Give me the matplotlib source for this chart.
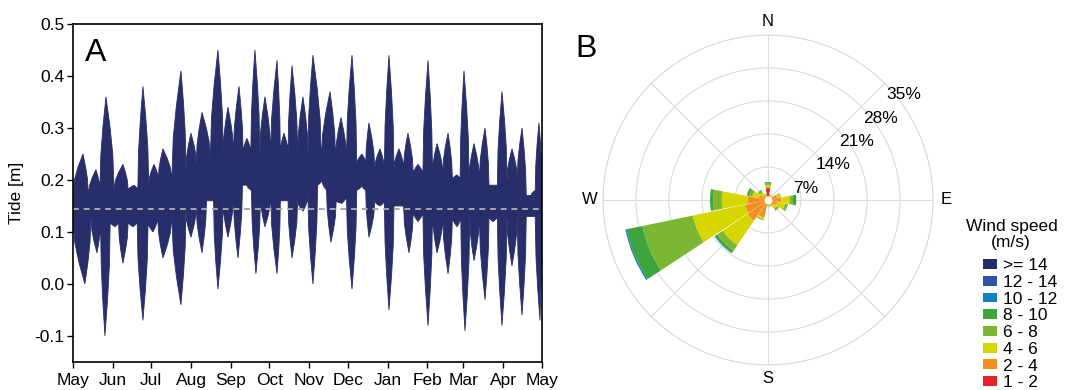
import numpy as np
import matplotlib
matplotlib.use('Agg')
import matplotlib.pyplot as plt
from matplotlib.patches import Patch

plt.rcParams['font.family'] = ['Liberation Sans', 'DejaVu Sans']
plt.rcParams['font.size'] = 12

# ---- panel A: tide envelope, peaks and notches (days since 1 May) ----
up_day = [0, 7.8, 12, 17.9, 21, 25.7, 32, 38.9, 43, 47.5, 50.5, 54.5, 59, 63.1, 66.5, 70.1,
          77, 84.1, 88, 91.9, 96, 100.5, 107, 112.9, 117, 120.7, 125, 129.3, 132.5, 135.5,
          138.5, 141.7, 145.5, 149.5, 154, 158.9, 161.5, 164.3, 167.5, 170.6, 175, 179.1,
          183, 186.9, 193.5, 200.2, 204.5, 208.7, 213, 217.3, 221, 225.1, 228, 230.5, 235,
          239.1, 242.5, 246.1, 250, 253.9, 257.5, 260.9, 265, 268.7, 272.5, 276.5, 280,
          283.5, 288, 292.1, 295.5, 299.1, 301.5, 304.5, 308.5, 312.3, 316.5, 320.9, 324,
          327.1, 330.5, 334.1, 338, 341.9, 346, 349.7, 353, 356.7, 360, 362.9, 365]
up_val = [0.17, 0.25, 0.17, 0.22, 0.18, 0.36, 0.18, 0.23, 0.18, 0.19, 0.18, 0.38, 0.19, 0.23, 0.20, 0.26,
          0.20, 0.41, 0.22, 0.29, 0.23, 0.33, 0.24, 0.45, 0.25, 0.34, 0.25, 0.38, 0.25, 0.28,
          0.25, 0.45, 0.25, 0.36, 0.25, 0.43, 0.25, 0.29, 0.25, 0.42, 0.25, 0.36,
          0.25, 0.44, 0.24, 0.37, 0.24, 0.32, 0.24, 0.44, 0.23, 0.25, 0.23, 0.31, 0.22,
          0.26, 0.22, 0.44, 0.22, 0.26, 0.22, 0.29, 0.21, 0.23, 0.21, 0.43, 0.21,
          0.27, 0.21, 0.29, 0.20, 0.21, 0.20, 0.41, 0.20, 0.27, 0.20, 0.30, 0.19,
          0.19, 0.19, 0.37, 0.20, 0.26, 0.20, 0.30, 0.17, 0.17, 0.18, 0.31, 0.20]

lo_day = [0, 9.3, 14, 18.7, 21.5, 24.9, 29, 32.7, 35.5, 38.9, 43, 46.7, 50, 54.5, 58.5, 62.3,
          66, 70.1, 77, 84.1, 88, 91.9, 96, 100.5, 104, 106.7, 109.5, 112.9, 117, 120.7, 125,
          128.5, 132, 135.5, 139, 142.5, 146, 149.5, 154, 158.9, 161.5, 164.3, 167.5, 170.6,
          175, 179.1, 183, 186.9, 190.5, 193.9, 197.5, 200.9, 205, 209.5, 213, 217.3, 221,
          225.1, 228, 230.5, 235, 239.1, 242.5, 246.1, 250, 253.9, 257.5, 261.7, 265, 268.7,
          272.5, 276.5, 280, 283.5, 288, 292.1, 295.5, 299.1, 302, 305.3, 309, 312.3, 316.5,
          320.9, 324, 327.1, 330.5, 334.1, 338, 341.9, 346, 349.7, 353, 356.7, 360, 363.7, 365]
lo_val = [0.13, 0.0, 0.13, 0.06, 0.12, -0.10, 0.12, 0.11, 0.12, 0.04, 0.12, 0.11, 0.12, -0.07, 0.12, 0.10,
          0.13, 0.05, 0.13, -0.04, 0.14, 0.09, 0.15, 0.06, 0.16, 0.16, 0.16, -0.01, 0.16, 0.09, 0.17,
          0.05, 0.19, 0.19, 0.18, 0.02, 0.17, 0.11, 0.17, 0.02, 0.16, 0.16, 0.16, 0.05,
          0.16, 0.14, 0.17, 0.0, 0.19, 0.20, 0.18, 0.08, 0.16, 0.155, 0.17, -0.01, 0.18,
          0.19, 0.18, 0.09, 0.16, 0.15, 0.16, -0.05, 0.15, 0.15, 0.15, 0.06, 0.14, 0.12,
          0.14, -0.08, 0.14, 0.06, 0.13, 0.02, 0.13, 0.11, 0.13, -0.09, 0.13, 0.045, 0.13,
          -0.03, 0.13, 0.12, 0.13, -0.08, 0.13, 0.035, 0.13, -0.06, 0.13, 0.13, 0.13, -0.07, 0.10]

mean_level = 0.145
month_days = [0, 31, 61, 92, 123, 153, 184, 214, 245, 276, 304, 335, 365]
month_labels = ['May', 'Jun', 'Jul', 'Aug', 'Sep', 'Oct', 'Nov', 'Dec', 'Jan', 'Feb', 'Mar', 'Apr', 'May']

# ---- panel B: wind rose, frequency (%) per speed bin and direction ----
directions = ['N', 'NNE', 'NE', 'ENE', 'E', 'ESE', 'SE', 'SSE',
              'S', 'SSW', 'SW', 'WSW', 'W', 'WNW', 'NW', 'NNW']
bin_labels = ['1 - 2', '2 - 4', '4 - 6', '6 - 8', '8 - 10', '10 - 12', '12 - 14', '>= 14']
bin_colors = ['#e8222b', '#f28f1f', '#d6d600', '#7cb733', '#3ea43b', '#0b84c1', '#2f55a8', '#262d68']
#            N    NNE  NE   ENE  E    ESE  SE   SSE  S    SSW  SW   WSW   W    WNW  NW   NNW
f_1_2   = [2.5, 0.4, 0.3, 0.3, 0.3, 0.3, 0.3, 0.3, 0.3, 0.3, 0.3, 0.3,  0.3, 0.3, 0.3, 0.3]
f_2_4   = [0.3, 0.5, 0.5, 1.7, 2.5, 1.7, 1.1, 0.9, 0.8, 3.5, 5.0, 4.7,  4.0, 1.7, 0.9, 0.5]
f_4_6   = [0.4, 0.3, 0.2, 0.6, 1.8, 1.7, 0.9, 0.2, 0.2, 0.4, 6.3, 11.3, 5.5, 1.4, 0.8, 0.3]
f_6_8   = [0.3, 0.1, 0.1, 0.2, 0.7, 0.4, 0.4, 0.1, 0.1, 0.2, 1.4, 10.9, 1.9, 0.7, 0.4, 0.2]
f_8_10  = [0.3, 0.0, 0.0, 0.0, 0.7, 0.2, 0.1, 0.0, 0.0, 0.0, 0.6, 3.4,  0.6, 0.5, 0.2, 0.1]
f_10_12 = [0.0, 0.0, 0.0, 0.0, 0.0, 0.0, 0.0, 0.0, 0.0, 0.0, 0.1, 0.3,  0.0, 0.0, 0.0, 0.0]
f_12_14 = [0.0, 0.0, 0.0, 0.0, 0.0, 0.0, 0.0, 0.0, 0.0, 0.0, 0.0, 0.0,  0.0, 0.0, 0.0, 0.0]
f_14    = [0.0, 0.0, 0.0, 0.0, 0.0, 0.0, 0.0, 0.0, 0.0, 0.0, 0.0, 0.0,  0.0, 0.0, 0.0, 0.0]
freqs = [f_1_2, f_2_4, f_4_6, f_6_8, f_8_10, f_10_12, f_12_14, f_14]
ring_vals = [7, 14, 21, 28, 35]

# spike side shape (fraction of way from extreme to notch, fraction of height kept)
SIDE = [(0.5, 0.68), (0.85, 0.38)]


def spiky(days, vals, upper=True):
    xs, ys = [days[0]], [vals[0]]
    for i in range(len(days) - 1):
        d0, v0, d1, v1 = days[i], vals[i], days[i + 1], vals[i + 1]
        first = v0 >= v1 if upper else v0 <= v1
        (dp, vp), (dn, vn) = ((d0, v0), (d1, v1)) if first else ((d1, v1), (d0, v0))
        pts = [(dp + t * (dn - dp), vn + f * (vp - vn)) for t, f in SIDE]
        if not first:
            pts = pts[::-1]
        for px, py in pts:
            xs.append(px)
            ys.append(py)
        xs.append(d1)
        ys.append(v1)
    return np.array(xs), np.array(ys)


fig = plt.figure(figsize=(10.65, 3.9), dpi=100)

# panel A
ax = fig.add_axes([0.0685, 0.0718, 0.4401, 0.8667])
ux, uy = spiky(up_day, up_val, True)
lx, ly = spiky(lo_day, lo_val, False)
ax.fill(np.concatenate([ux, lx[::-1]]), np.concatenate([uy, ly[::-1]]),
        color='#272e69', lw=0.6, edgecolor='#272e69')
ax.axhline(mean_level, color='#a8a8a8', ls=(0, (3, 2.5)), lw=1.4)
ax.set_xlim(0, 365)
ax.set_ylim(-0.15, 0.5)
ax.set_yticks([-0.1, 0.0, 0.1, 0.2, 0.3, 0.4, 0.5])
ax.set_yticklabels(['-0.1', '0.0', '0.1', '0.2', '0.3', '0.4', '0.5'])
ax.set_xticks(month_days)
ax.set_xticklabels(month_labels)
ax.tick_params(direction='out', length=4, width=1, labelsize=12.5, pad=2)
ax.tick_params(axis='x', pad=4)
ax.set_ylabel('Tide [m]', fontsize=12.5, labelpad=8)
for s in ax.spines.values():
    s.set_linewidth(1.2)
ax.text(0.025, 0.96, 'A', transform=ax.transAxes, fontsize=23, va='top', ha='left')

# panel B
theta = np.deg2rad(np.arange(16) * 22.5)
width = np.deg2rad(22.5) * 0.96
pax = fig.add_axes([0.5662, 0.0641, 0.3099, 0.8462], projection='polar')
pax.set_theta_zero_location('N')
pax.set_theta_direction(-1)
bottom = np.zeros(16)
for vals, col in zip(freqs, bin_colors):
    pax.bar(theta, vals, width=width, bottom=bottom, color=col, edgecolor='none', zorder=3)
    bottom = bottom + np.array(vals)
pax.scatter([0], [0], s=22, color='white', zorder=5)
pax.set_ylim(0, 35)
pax.set_yticks(ring_vals)
pax.set_yticklabels([])
for r in ring_vals:
    pax.annotate('%d%%' % r, xy=(np.deg2rad(45), r), xytext=(1, -3), textcoords='offset points',
                 ha='left', va='top', fontsize=12.5, zorder=6)
pax.set_xticks(np.deg2rad(np.arange(0, 360, 45)))
pax.set_xticklabels(['N', '', 'E', '', 'S', '', 'W', ''], fontsize=12)
pax.tick_params(axis='x', pad=-1)
pax.grid(color='#d8dbe6', lw=0.8)
pax.spines['polar'].set_color('#d8dbe6')
pax.spines['polar'].set_linewidth(0.8)
fig.text(0.54, 0.875, 'B', fontsize=23, ha='left', va='center')

fig.text(0.950, 0.420, 'Wind speed', fontsize=12.5, ha='center', va='center')
fig.text(0.949, 0.377, '(m/s)', fontsize=12.5, ha='center', va='center')
handles = [Patch(facecolor=c, edgecolor='none') for c in bin_colors][::-1]
leg = fig.legend(handles, bin_labels[::-1], loc='upper left',
                 bbox_to_anchor=(0.923, 0.338), frameon=False, fontsize=12.5,
                 handlelength=0.8, handleheight=0.5, borderaxespad=0,
                 handletextpad=0.35, labelspacing=0.1, borderpad=0)

fig.savefig('out.png', dpi=100)
